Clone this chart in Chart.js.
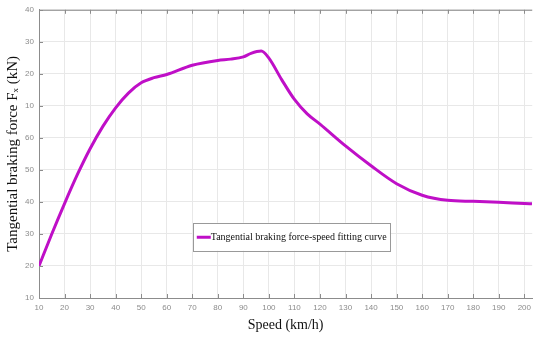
<!DOCTYPE html>
<html>
<head>
<meta charset="utf-8">
<script src="https://cdn.jsdelivr.net/npm/chart.js@4.4.7/dist/chart.umd.js"></script>
<style>
  html, body { margin: 0; padding: 0; background: #fff; }
  #wrap { width: 536px; height: 338px; }
</style>
</head>
<body>
<div id="wrap"><canvas id="c" width="536" height="338"></canvas></div>
<script>
// speed (km/h) and fitted tangential braking force
const speeds = [10, 15, 20, 25, 30, 35, 40, 45, 50, 55, 60, 70, 80, 85, 90, 93, 97, 100, 105, 110, 115, 120, 130, 140, 150, 160, 170, 180, 190, 200, 203];
const forces = [20, 30, 39.5, 48.5, 56.6, 63.6, 69.4, 74, 77.2, 78.8, 79.8, 82.7, 84.2, 84.6, 85.3, 86.4, 87.1, 84.9, 78.2, 72, 67.5, 64.3, 57.5, 51.3, 45.7, 42.1, 40.5, 40.2, 39.9, 39.5, 39.4];

const xTicks = [10, 20, 30, 40, 50, 60, 70, 80, 90, 100, 110, 120, 130, 140, 150, 160, 170, 180, 190, 200];
const yTicks = [10, 20, 30, 40, 50, 60, 70, 80, 90, 100];
// the printed y labels as they appear in the figure
const yTickLabels = ["10", "20", "30", "40", "50", "60", "10", "20", "30", "40"];

const seriesLabel = "Tangential braking force-speed fitting curve";
const lineColor = "#bf0fc7";
const axisGray = "#8c8c8c";

// box + inward ticks, MATLAB style
const boxPlugin = {
  id: "box",
  afterDraw(chart) {
    const { ctx, chartArea: a, scales } = chart;
    ctx.save();
    ctx.strokeStyle = axisGray;
    ctx.lineWidth = 1;
    ctx.beginPath();
    ctx.moveTo(a.left, a.top + 0.5);
    ctx.lineTo(a.right, a.top + 0.5);
    xTicks.forEach(v => {
      const px = Math.round(scales.x.getPixelForValue(v)) + 0.5;
      ctx.moveTo(px, a.bottom); ctx.lineTo(px, a.bottom - 4);
      ctx.moveTo(px, a.top); ctx.lineTo(px, a.top + 4);
    });
    yTicks.forEach(v => {
      const py = Math.round(scales.y.getPixelForValue(v)) + 0.5;
      ctx.moveTo(a.left, py); ctx.lineTo(a.left + 4, py);
    });
    ctx.stroke();
    ctx.restore();
  }
};

// legend box inside the plot
const legendPlugin = {
  id: "inLegend",
  afterDraw(chart) {
    const { ctx } = chart;
    const x = chart.scales.x, y = chart.scales.y;
    const left = x.getPixelForValue(70.2), top = y.getPixelForValue(33.5);
    const w = 197, h = 28;
    ctx.save();
    ctx.fillStyle = "#fff";
    ctx.fillRect(left, top, w, h);
    ctx.strokeStyle = "#999";
    ctx.lineWidth = 1;
    ctx.strokeRect(Math.round(left) + 0.5, Math.round(top) + 0.5, w, h);
    ctx.strokeStyle = lineColor;
    ctx.lineWidth = 3;
    ctx.beginPath();
    ctx.moveTo(left + 4, top + h / 2 + 0.5);
    ctx.lineTo(left + 18, top + h / 2 + 0.5);
    ctx.stroke();
    ctx.fillStyle = "#111";
    ctx.font = "10px 'Liberation Serif', 'Times New Roman', serif";
    ctx.textBaseline = "middle";
    ctx.fillText(chart.data.datasets[0].label, left + 18, top + h / 2 + 0.5);
    ctx.restore();
  }
};

new Chart(document.getElementById("c"), {
  type: "line",
  data: {
    datasets: [{
      label: seriesLabel,
      data: speeds.map((s, i) => ({ x: s, y: forces[i] })),
      borderColor: lineColor,
      borderWidth: 3,
      pointRadius: 0,
      cubicInterpolationMode: "monotone",
      fill: false
    }]
  },
  options: {
    responsive: false,
    animation: false,
    layout: { padding: { top: 7, right: 0, bottom: 0, left: 0 } },
    plugins: { legend: { display: false }, tooltip: { enabled: false } },
    scales: {
      x: {
        type: "linear",
        min: 10,
        max: 203.1,
        afterBuildTicks: s => { s.ticks = xTicks.map(v => ({ value: v })); },
        afterFit: s => { s.height = 40; },
        ticks: {
          color: axisGray,
          font: { family: "'Liberation Sans', Arial, sans-serif", size: 8 },
          padding: 5,
          maxRotation: 0,
          autoSkip: false
        },
        grid: { color: "#e8e8e8", drawTicks: false },
        border: { color: axisGray },
        title: {
          display: true,
          text: "Speed (km/h)",
          color: "#111",
          font: { family: "'Liberation Serif', 'Times New Roman', serif", size: 14 },
          padding: { top: 0, bottom: 4 }
        }
      },
      y: {
        min: 10,
        max: 100,
        afterBuildTicks: s => { s.ticks = yTicks.map(v => ({ value: v })); },
        afterFit: s => { s.width = 39; },
        ticks: {
          color: axisGray,
          font: { family: "'Liberation Sans', Arial, sans-serif", size: 8 },
          padding: 5,
          callback: v => yTickLabels[yTicks.indexOf(v)]
        },
        grid: { color: "#e8e8e8", drawTicks: false },
        border: { color: axisGray },
        title: {
          display: true,
          text: "Tangential braking force Fₓ (kN)",
          color: "#111",
          font: { family: "'Liberation Serif', 'Times New Roman', serif", size: 15 },
          padding: { top: 4, bottom: 0 }
        }
      }
    }
  },
  plugins: [boxPlugin, legendPlugin]
});
</script>
</body>
</html>
